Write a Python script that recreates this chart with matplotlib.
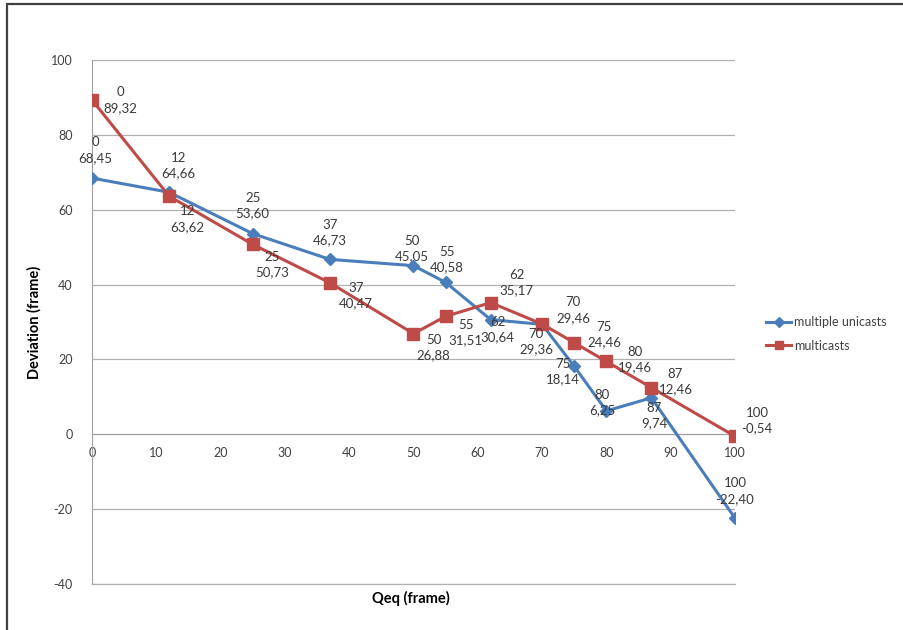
import matplotlib.pyplot as plt
from matplotlib.lines import Line2D

plt.rcParams['font.family'] = ['Lato', 'DejaVu Sans']
plt.rcParams['axes.unicode_minus'] = False

# Data
qeq = [0, 12, 25, 37, 50, 55, 62, 70, 75, 80, 87, 100]
unicasts = [68.45, 64.66, 53.60, 46.73, 45.05, 40.58, 30.64, 29.36, 18.14, 6.25, 9.74, -22.40]
multicasts = [89.32, 63.62, 50.73, 40.47, 26.88, 31.51, 35.17, 29.46, 24.46, 19.46, 12.46, -0.54]
y_ticks = [-40, -20, 0, 20, 40, 60, 80, 100]
x_ticks = [0, 10, 20, 30, 40, 50, 60, 70, 80, 90, 100]

# label offsets in pixels (dx, dy with y up), to mimic the manually placed Excel labels
uni_offsets = [(3, 28), (9, 27), (0, 28), (0, 27), (-2, 17), (1, 23), (7, -10),
               (-6, -17), (-11, -5), (-4, 8), (3, -18), (0, 27)]
multi_offsets = [(28, 0), (18, -23), (19, -20), (26, -13), (20, -14), (20, -16), (26, 20),
                 (31, 14), (30, 8), (29, 2), (24, 6), (22, 16)]

blue = '#4a7ebb'
red = '#be4b48'

fig = plt.figure(figsize=(9.04, 6.3), dpi=100)
ax = fig.add_axes([92 / 904, 1 - 584 / 630, (735 - 92) / 904, (584 - 60) / 630])

ax.plot(qeq, unicasts, color=blue, lw=2.2, marker='D', ms=6, label='multiple unicasts', zorder=3)
ax.plot(qeq, multicasts, color=red, lw=2.2, marker='s', ms=8, label='multicasts', zorder=3)

def fmt(v):
    return ('%.2f' % v).replace('.', ',')

for x, y, off in zip(qeq, unicasts, uni_offsets):
    ax.annotate('%d\n%s' % (x, fmt(y)), (x, y), xytext=(off[0] * 0.72, off[1] * 0.72),
                textcoords='offset points', ha='center', va='center', fontsize=9.5,
                color='#3a3a3a', linespacing=1.35, zorder=4)
for x, y, off in zip(qeq, multicasts, multi_offsets):
    ax.annotate('%d\n%s' % (x, fmt(y)), (x, y), xytext=(off[0] * 0.72, off[1] * 0.72),
                textcoords='offset points', ha='center', va='center', fontsize=9.5,
                color='#3a3a3a', linespacing=1.35, zorder=4)

ax.set_xlim(0, 100)
ax.set_ylim(-40, 100)
ax.set_yticks(y_ticks)
ax.set_xticks(x_ticks)
ax.yaxis.grid(True, color='#b0b0b0', lw=0.9)
ax.axhline(-40, color='#b0b0b0', lw=0.9, clip_on=False, zorder=0.5)
ax.set_axisbelow(True)
ax.spines['top'].set_visible(False)
ax.spines['right'].set_visible(False)
ax.spines['bottom'].set_position(('data', 0))
ax.spines['bottom'].set_color('#a0a0a0')
ax.spines['left'].set_color('#a0a0a0')
ax.tick_params(axis='both', length=0, labelsize=9, labelcolor='#404040')
ax.tick_params(axis='y', pad=14)
ax.tick_params(axis='x', pad=9)

ax.set_ylabel('Deviation (frame)', fontsize=10.5, fontweight='bold', labelpad=14)
fig.text(411 / 904, 1 - 598 / 630, 'Qeq (frame)', fontsize=10.5, fontweight='bold',
         ha='center', va='center')
ax.yaxis.set_label_coords(-50 / 643, 0.5)

handles = [Line2D([], [], color=blue, lw=2.2, marker='D', ms=5),
           Line2D([], [], color=red, lw=2.2, marker='s', ms=6)]
fig.legend(handles, ['multiple unicasts', 'multicasts'], loc='center left',
           bbox_to_anchor=(755 / 904, 1 - 334 / 630), frameon=False, fontsize=9,
           handlelength=2.0, handletextpad=0.2, labelspacing=0.9, labelcolor='#404040')

# outer frame of the chart area
fig.add_artist(plt.Rectangle((7 / 904, -0.05), 1.1, 1 - 4 / 630 + 0.05, transform=fig.transFigure,
                             fill=False, edgecolor='#404040', lw=1.6))

fig.savefig('out.png', dpi=100)
